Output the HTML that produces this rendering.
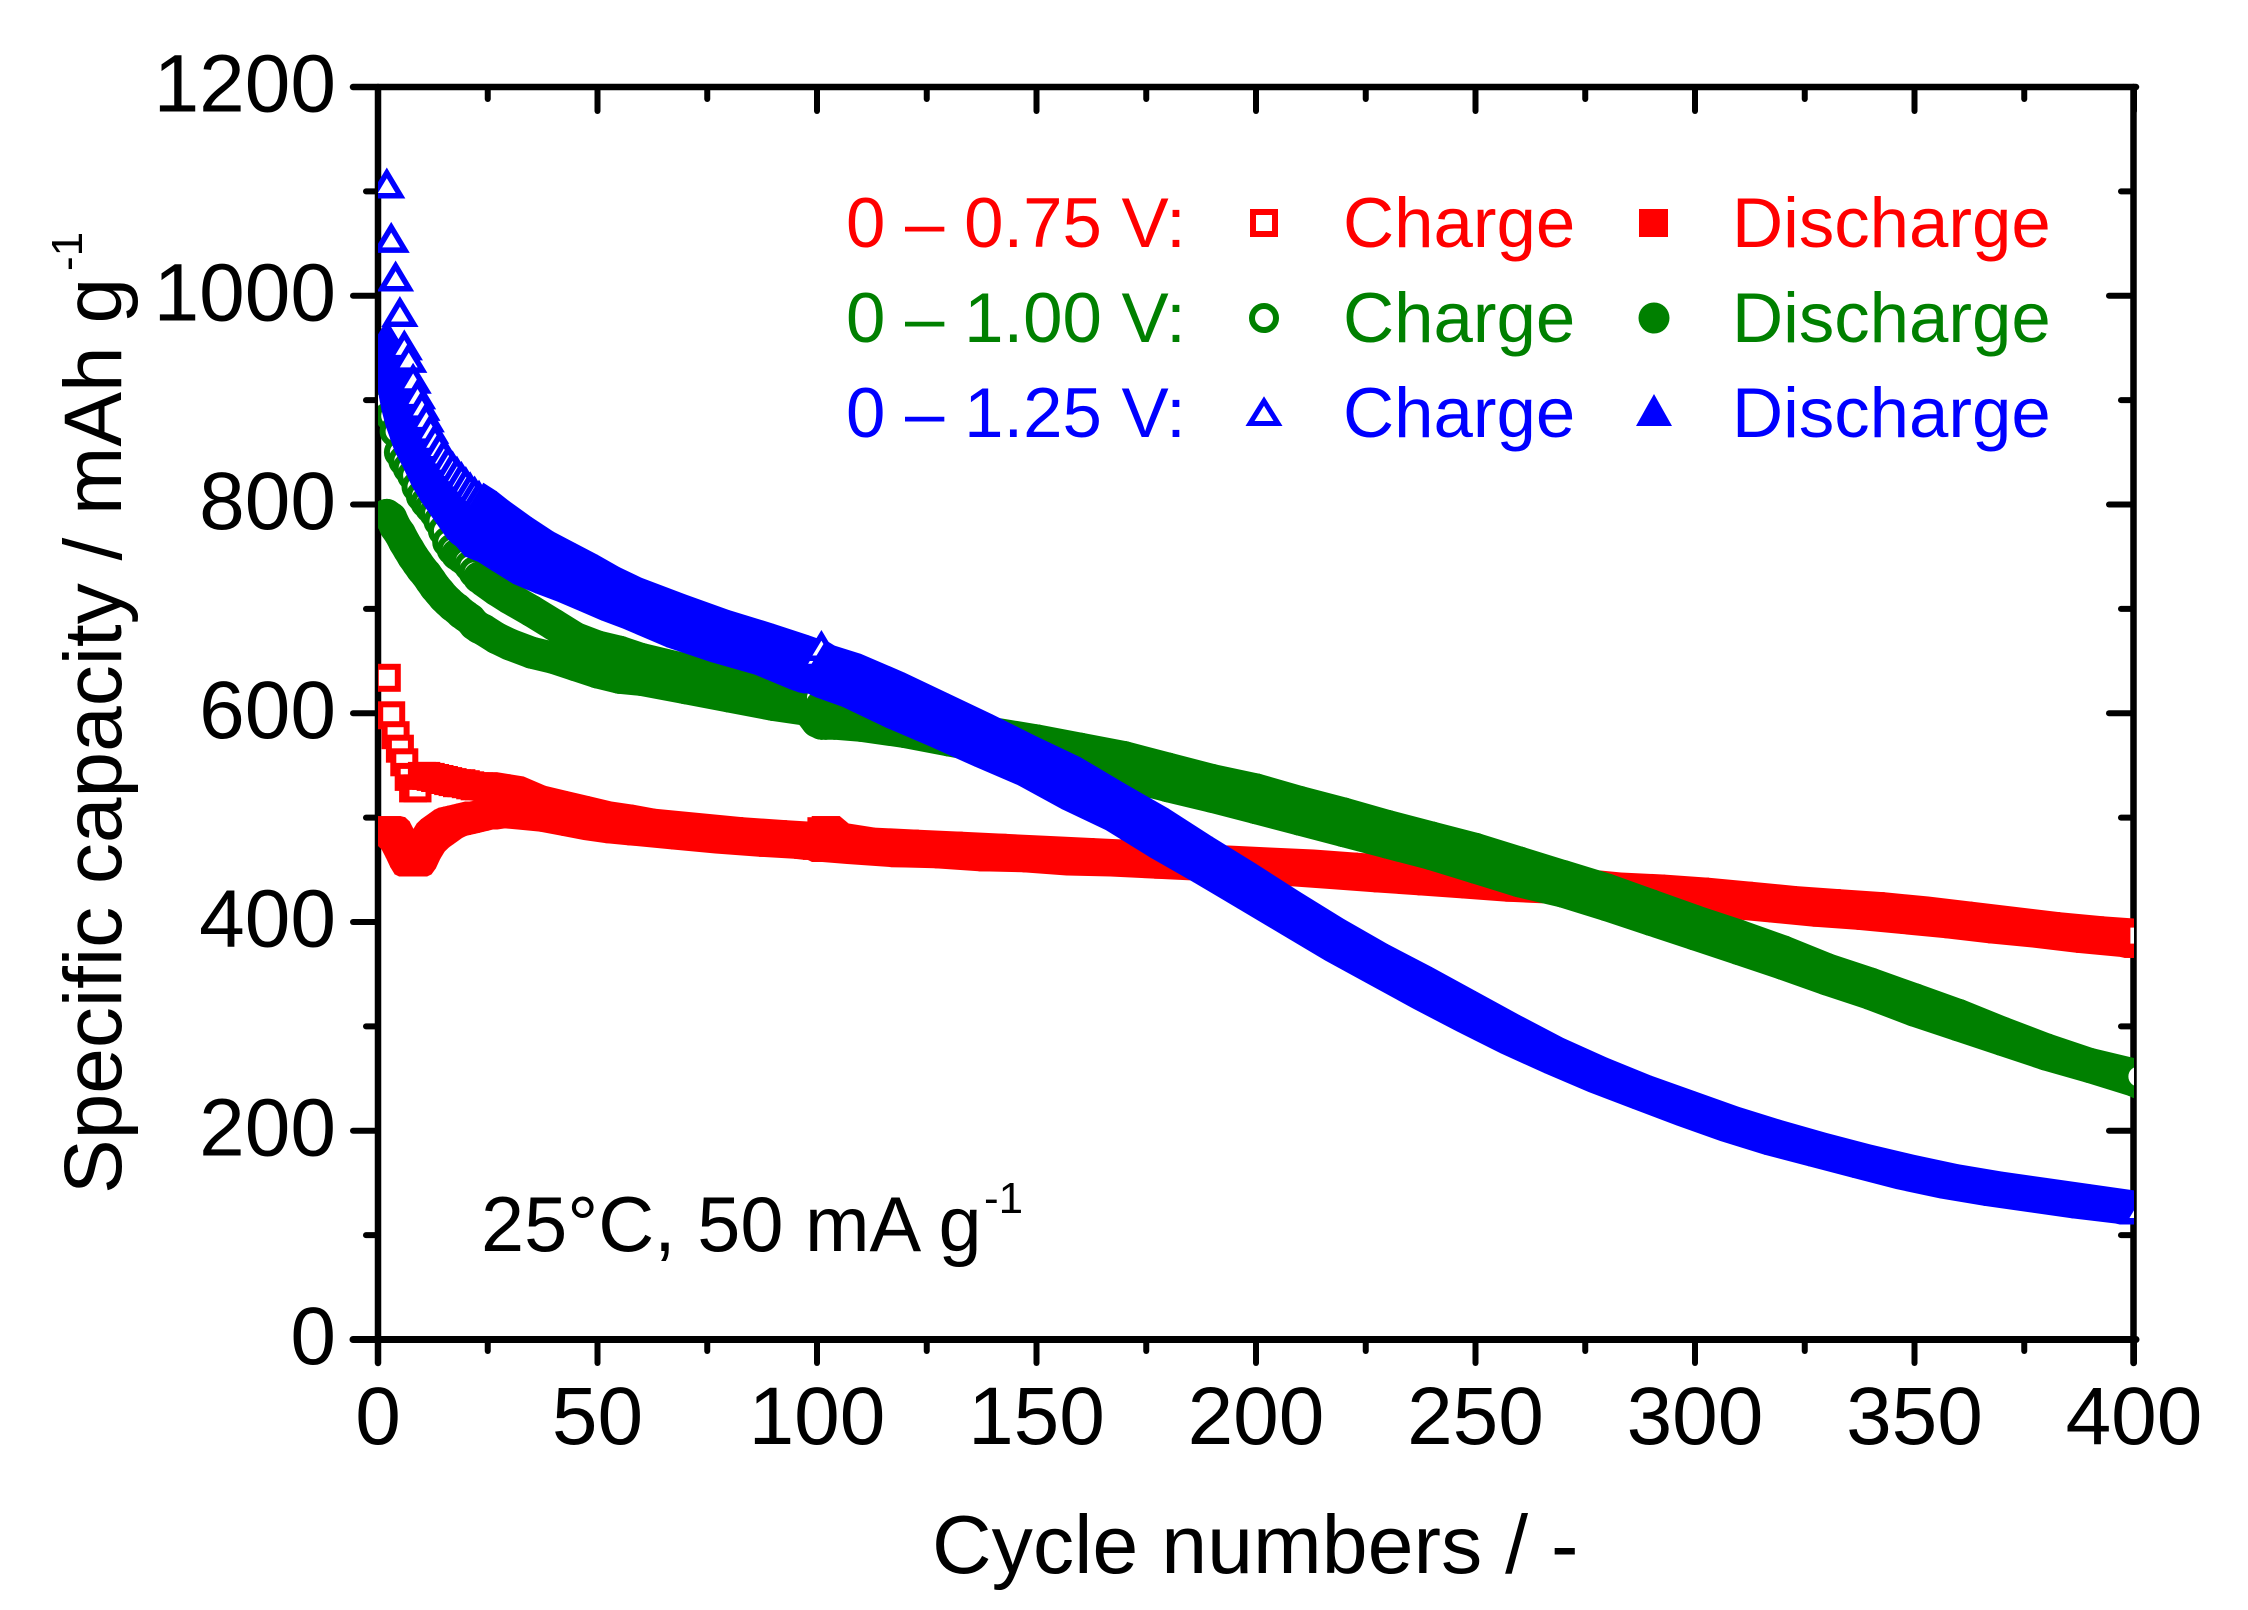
<!DOCTYPE html>
<html lang="en">
<head>
<meta charset="utf-8">
<title>Specific capacity vs cycle number</title>
<style>
  html, body { margin: 0; padding: 0; background: #fff; }
  svg { display: block; font-family: "Liberation Sans", sans-serif; }
</style>
</head>
<body>
<svg id="chart" xmlns="http://www.w3.org/2000/svg" width="2248" height="1610" viewBox="0 0 2248 1610">
  <rect x="0" y="0" width="2248" height="1610" fill="#fff"/>
  <defs>
    <clipPath id="plot-clip"><rect x="378" y="87" width="1756" height="1253"/></clipPath>
  </defs>
  <g id="axes"></g>
  <g id="series" clip-path="url(#plot-clip)"></g>

  <g fill="#000">
    <text transform="translate(121 1194) rotate(-90)" font-size="82">Specific capacity / mAh g</text>
    <text transform="translate(82 271) rotate(-90)" font-size="44">-1</text>
  </g>
  <text x="932" y="1573" font-size="82.5" fill="#000">Cycle numbers / -</text>

  <g fill="#000">
    <text x="481" y="1251" font-size="77.5">25°C, 50 mA g</text>
    <text x="984" y="1213" font-size="44">-1</text>
  </g>

  <g font-size="70.8">
    <g fill="#ff0000">
      <text x="846" y="247">0 – 0.75 V:</text>
      <rect x="1253" y="212" width="22" height="22" fill="#fff" stroke="#ff0000" stroke-width="6"/>
      <text x="1343" y="247">Charge</text>
      <rect x="1639" y="209" width="29" height="28" fill="#ff0000"/>
      <text x="1732" y="247">Discharge</text>
    </g>
    <g fill="#008000">
      <text x="846" y="342">0 – 1.00 V:</text>
      <circle cx="1264" cy="318" r="12" fill="#fff" stroke="#008000" stroke-width="6"/>
      <text x="1343" y="342">Charge</text>
      <circle cx="1654" cy="318" r="15.5" fill="#008000"/>
      <text x="1732" y="342">Discharge</text>
    </g>
    <g fill="#0000ff">
      <text x="846" y="437">0 – 1.25 V:</text>
      <polygon points="1264,401 1278,423.5 1250,423.5" fill="#fff" stroke="#0000ff" stroke-width="5"/>
      <text x="1343" y="437">Charge</text>
      <polygon points="1654,394 1672,426 1636,426" fill="#0000ff"/>
      <text x="1732" y="437">Discharge</text>
    </g>
  </g>
</svg>
<script>
const cycles = [2,3,4,5,6,7,8,9,10,11,12,13,14,15,16,17,18,19,20,21,22,23,24,
  27,30,35,40,45,50,55,60,70,80,90,98,100,101,102,104,
  110,120,130,140,150,160,170,180,190,200,210,220,230,240,250,260,270,280,290,300,310,320,330,340,350,360,370,380,390,400,401];

const redCharge = [634,598,579,566,553,539,528,528,540,540,539,538,537,536,535,534,533,533,532,531,530,530,530,
  528,526,517,512,507,502,499,495,491,487,484,482,482,487,488,481,
  477,475,473,471,469,467,465,463,460,458,456,453,450,447,444,441,438,434,432,429,425,421,418,415,411,406,401,396,392,389,387];
const redDischarge = [488,487,483,475,466,459,457,459,465,474,481,485,488,491,494,496,497,498,499,500,501,502,502,
  504,504,502,500,496,492,489,487,483,479,476,474,473,473,471,471,
  469,466,465,462,461,458,457,455,453,451,448,445,442,439,436,433,431,428,424,421,417,413,409,406,402,398,393,389,384,380,379];
const greenCharge = [900,885,870,850,842,835,828,817,808,802,797,792,784,775,764,757,752,749,746,741,735,730,727,
  718,710,698,685,672,664,659,652,642,630,619,610,615,607,605,604,
  602,596,589,581,574,566,558,547,536,527,515,504,492,481,470,457,444,431,416,401,387,372,355,341,326,311,294,278,264,254,252];
const greenDischarge = [790,787,778,772,764,757,750,744,738,733,727,721,716,711,707,703,700,696,693,690,685,682,680,
  672,666,658,653,646,639,634,632,624,616,608,603,592,590,590,590,
  588,582,574,566,558,549,541,530,520,509,498,487,476,465,452,439,429,416,402,388,374,360,345,331,315,301,287,273,261,248,246];
const blueCharge = [1108,1056,1019,985,953,941,921,906,895,884,873,864,856,849,843,837,832,827,822,817,813,809,806,
  798,788,773,759,748,737,725,715,699,684,671,660,657,665,655,650,
  642,624,604,584,563,543,518,494,467,441,414,388,364,342,319,296,274,255,238,223,208,195,183,172,162,153,146,140,134,128,126];
const blueDischarge = [962,950,928,906,890,878,866,858,850,841,832,825,818,812,806,800,794,788,782,778,775,770,765,
  760,752,739,730,722,713,704,696,678,664,652,638,635,634,634,630,
  621,601,583,564,546,523,503,477,453,428,403,378,355,332,310,289,270,252,236,220,205,192,181,170,159,150,143,137,131,126,125];

const xTickLabels = [0,50,100,150,200,250,300,350,400];
const yTickLabels = [0,200,400,600,800,1000,1200];
const xMinorTicks = [25,75,125,175,225,275,325,375];
const yMinorTicks = [100,300,500,700,900,1100];

const seriesList = [
  { name: 'red-discharge', color: '#ff0000', shape: 'square', hollow: false, values: redDischarge },
  { name: 'red-charge', color: '#ff0000', shape: 'square', hollow: true, values: redCharge },
  { name: 'green-discharge', color: '#008000', shape: 'circle', hollow: false, values: greenDischarge },
  { name: 'green-charge', color: '#008000', shape: 'circle', hollow: true, values: greenCharge },
  { name: 'blue-discharge', color: '#0000ff', shape: 'triangle', hollow: false, values: blueDischarge },
  { name: 'blue-charge', color: '#0000ff', shape: 'triangle', hollow: true, values: blueCharge }
];

const NS = 'http://www.w3.org/2000/svg';
const PLOT_LEFT = 378, PLOT_RIGHT = 2134, PLOT_TOP = 87, PLOT_BOTTOM = 1339.5;
const X_MAX = 400, Y_MAX = 1200;
function xScale(v) { return PLOT_LEFT + v * (PLOT_RIGHT - PLOT_LEFT) / X_MAX; }
function yScale(v) { return PLOT_BOTTOM - v * (PLOT_BOTTOM - PLOT_TOP) / Y_MAX; }

function make(tag, attrs, parent) {
  const node = document.createElementNS(NS, tag);
  for (const k in attrs) node.setAttribute(k, attrs[k]);
  parent.appendChild(node);
  return node;
}

const axes = document.getElementById('axes');

function axisLine(x1, y1, x2, y2, name, width) {
  const l = make('line', { x1: x1, y1: y1, x2: x2, y2: y2, stroke: '#000', 'stroke-width': width, 'stroke-linecap': 'round' }, axes);
  
  
}
function tickLabel(x, y, anchor, str, name) {
  const t = make('text', { x: x, y: y, 'text-anchor': anchor, 'font-size': 82, fill: '#000' }, axes);
  t.textContent = str;
  
  
}

axisLine(PLOT_LEFT, PLOT_TOP, PLOT_LEFT, 1363, 'left-axis-line', 6.5);
axisLine(2133.5, PLOT_TOP, 2133.5, 1363, 'right-axis-line', 6.5);
axisLine(353, PLOT_TOP, 2136, PLOT_TOP, 'top-axis-line', 6.5);
axisLine(353, PLOT_BOTTOM, 2136, PLOT_BOTTOM, 'bottom-axis-line', 7);

xTickLabels.forEach(function (v) {
  const x = xScale(v);
  axisLine(x, PLOT_BOTTOM, x, 1363, 'x-major-tick-' + v, 6);
  axisLine(x, PLOT_TOP, x, 111, 'x-top-major-tick-' + v, 6);
  tickLabel(x, 1444, 'middle', String(v), 'x-tick-label-' + v);
});
xMinorTicks.forEach(function (v) {
  const x = xScale(v);
  axisLine(x, PLOT_BOTTOM, x, 1351, 'x-minor-tick-' + v, 6);
  axisLine(x, PLOT_TOP, x, 99, 'x-top-minor-tick-' + v, 6);
});
yTickLabels.forEach(function (v) {
  const y = yScale(v);
  axisLine(353, y, PLOT_LEFT, y, 'y-major-tick-' + v, 6);
  axisLine(2109, y, 2133, y, 'y-right-major-tick-' + v, 6);
  tickLabel(336, y + 24.5, 'end', String(v), 'y-tick-label-' + v);
});
yMinorTicks.forEach(function (v) {
  const y = yScale(v);
  axisLine(366, y, PLOT_LEFT, y, 'y-minor-tick-' + v, 6);
  axisLine(2121, y, 2133, y, 'y-right-minor-tick-' + v, 6);
});

function outline(shape, x, y) {
  if (shape === 'square') {
    return [[x - 14, y - 14], [x + 14, y - 14], [x + 14, y + 14], [x - 14, y + 14]];
  }
  return [[x, y - 15.5], [x + 18.6, y + 15.5], [x - 18.6, y + 15.5]];
}
function convexHull(pts) {
  const p = pts.slice().sort(function (a, b) { return a[0] - b[0] || a[1] - b[1]; });
  function cross(o, a, b) { return (a[0] - o[0]) * (b[1] - o[1]) - (a[1] - o[1]) * (b[0] - o[0]); }
  const lower = [], upper = [];
  p.forEach(function (q) {
    while (lower.length > 1 && cross(lower[lower.length - 2], lower[lower.length - 1], q) <= 0) lower.pop();
    lower.push(q);
  });
  p.slice().reverse().forEach(function (q) {
    while (upper.length > 1 && cross(upper[upper.length - 2], upper[upper.length - 1], q) <= 0) upper.pop();
    upper.push(q);
  });
  return lower.slice(0, -1).concat(upper.slice(0, -1));
}
function pointsAttr(pts) {
  return pts.map(function (p) { return p[0].toFixed(1) + ',' + p[1].toFixed(1); }).join(' ');
}

function drawSweep(parent, s, x0, y0, x1, y1, cycle) {
  let node;
  if (s.shape === 'circle') {
    node = make('line', { x1: x0.toFixed(1), y1: y0.toFixed(1), x2: x1.toFixed(1), y2: y1.toFixed(1), stroke: s.color, 'stroke-width': 32, 'stroke-linecap': 'round' }, parent);
  } else {
    const hull = convexHull(outline(s.shape, x0, y0).concat(outline(s.shape, x1, y1)));
    node = make('polygon', { points: pointsAttr(hull), fill: s.color }, parent);
  }
  
  
}

function drawPoint(parent, s, x, y, fill, cycle) {
  let node;
  const open = fill === '#fff';
  if (s.shape === 'square') {
    node = open
      ? make('rect', { x: (x - 11).toFixed(1), y: (y - 11).toFixed(1), width: 22, height: 22, fill: fill, stroke: s.color, 'stroke-width': 6 }, parent)
      : make('rect', { x: (x - 14).toFixed(1), y: (y - 14).toFixed(1), width: 28, height: 28, fill: fill }, parent);
  } else if (s.shape === 'circle') {
    node = open
      ? make('circle', { cx: x.toFixed(1), cy: y.toFixed(1), r: 13, fill: fill, stroke: s.color, 'stroke-width': 6 }, parent)
      : make('circle', { cx: x.toFixed(1), cy: y.toFixed(1), r: 16, fill: fill }, parent);
  } else {
    const outer = outline('triangle', x, y);
    const cy = y + 5;
    const pts = open ? outer.map(function (p) { return [x + (p[0] - x) * 0.739, cy + (p[1] - cy) * 0.739]; }) : outer;
    node = open
      ? make('polygon', { points: pointsAttr(pts), fill: fill, stroke: s.color, 'stroke-width': 5.5 }, parent)
      : make('polygon', { points: pointsAttr(pts), fill: fill }, parent);
  }
  
  
}

const seriesRoot = document.getElementById('series');
seriesList.forEach(function (s) {
  const g = make('g', {}, seriesRoot);
  
  
  const last = cycles.length - 1;
  cycles.forEach(function (c, i) {
    const x = xScale(c), y = yScale(s.values[i]);
    if (i > 0 && (!s.hollow || c - cycles[i - 1] > 1)) {
      drawSweep(g, s, xScale(cycles[i - 1]), yScale(s.values[i - 1]), x, y, c);
    }
    const whiteFill = s.hollow && (i === last || cycles[i + 1] - c === 1);
    drawPoint(g, s, x, y, whiteFill ? '#fff' : s.color, c);
  });
});
</script>
</body>
</html>
